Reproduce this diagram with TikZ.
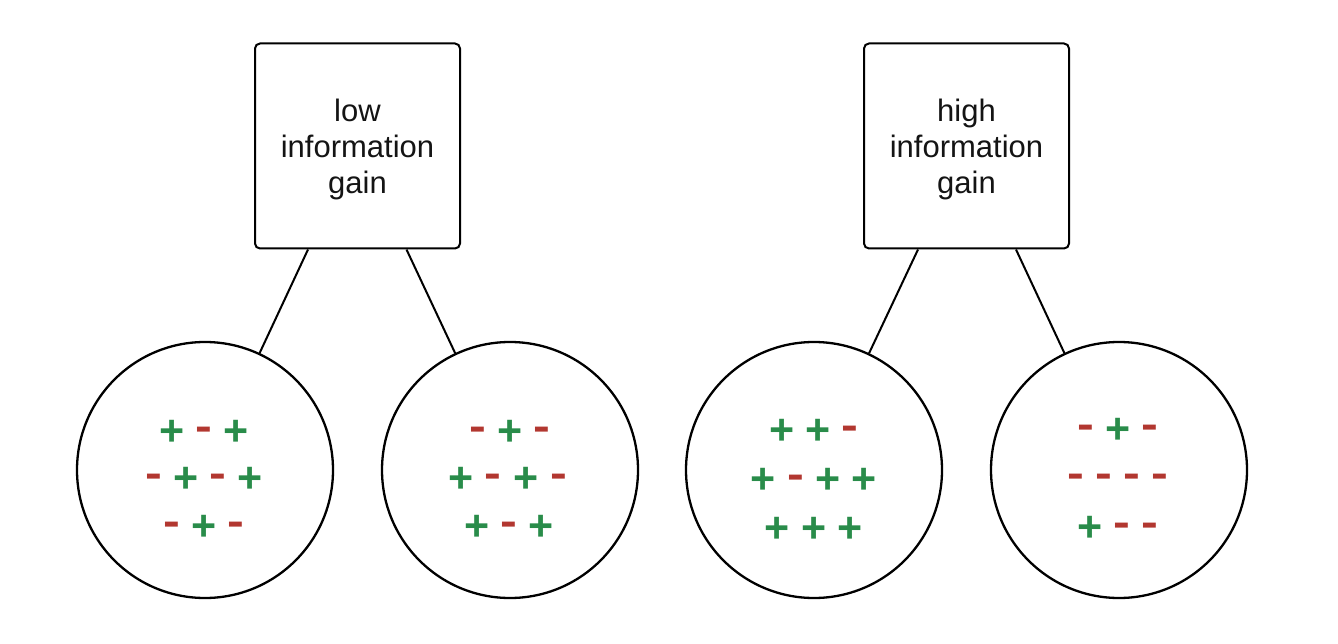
\documentclass[tikz,border=0pt]{standalone}
\usepackage{fontspec}
\setmainfont{Liberation Sans}
\definecolor{pgreen}{RGB}{41,140,74}
\definecolor{mred}{RGB}{178,55,48}
\tikzset{
  gainbox/.style={draw, line width=2pt, rounded corners=5pt, minimum width=205pt, minimum height=205pt, inner sep=0pt},
  boxtext/.style={align=center, inner sep=0pt, font=\fontsize{31}{36}\selectfont, text=black!92, yshift=-3.5pt},
  leaf/.style={draw, circle, line width=2.3pt, minimum size=256pt, inner sep=0pt},
  edge/.style={line width=2pt},
  possign/.style={text=pgreen, font=\fontsize{43}{43}\bfseries\selectfont, inner sep=0pt, yshift=-3.5pt},
  negsign/.style={text=mred, font=\fontsize{42}{42}\bfseries\selectfont, xscale=1.2, inner sep=0pt, yshift=-5pt},
}
\begin{document}
\begin{tikzpicture}[x=1pt,y=-1pt]
\useasboundingbox (0,0) rectangle (1338,644);
\node[gainbox] (b1) at (357.5,146) {};
\node[gainbox] (b2) at (966.5,146) {};
\node[boxtext] (t1) at (b1.center) {low\\information\\gain};
\node[boxtext] (t2) at (b2.center) {high\\information\\gain};
\node[leaf] (c1) at (205,470) {};
\node[leaf] (c2) at (510,470) {};
\node[leaf] (c3) at (814,470) {};
\node[leaf] (c4) at (1119,470) {};
\draw[edge] ([xshift=-49.5pt]b1.south) -- (c1);
\draw[edge] ([xshift=49pt]b1.south) -- (c2);
\draw[edge] ([xshift=-48.5pt]b2.south) -- (c3);
\draw[edge] ([xshift=49.5pt]b2.south) -- (c4);
% circle 1
\node[possign] (a11) at (172,429) {+};
\node[negsign] (a12) at (204,429) {-};
\node[possign] (a13) at (236,429) {+};
\node[negsign] (a21) at (154,476) {-};
\node[possign] (a22) at (186,476) {+};
\node[negsign] (a23) at (218,476) {-};
\node[possign] (a24) at (250,476) {+};
\node[negsign] (a31) at (172,524) {-};
\node[possign] (a32) at (204,524) {+};
\node[negsign] (a33) at (236,524) {-};
% circle 2
\node[negsign] (b11) at (478,429) {-};
\node[possign] (b12) at (510,429) {+};
\node[negsign] (b13) at (542,429) {-};
\node[possign] (b21) at (461,476) {+};
\node[negsign] (b22) at (493,476) {-};
\node[possign] (b23) at (526,476) {+};
\node[negsign] (b24) at (559,476) {-};
\node[possign] (b31) at (477,524) {+};
\node[negsign] (b32) at (509,524) {-};
\node[possign] (b33) at (541,524) {+};
% circle 3
\node[possign] (d11) at (782,428) {+};
\node[possign] (d12) at (818,428) {+};
\node[negsign] (d13) at (850,428) {-};
\node[possign] (d21) at (763,477) {+};
\node[negsign] (d22) at (796,477) {-};
\node[possign] (d23) at (828,477) {+};
\node[possign] (d24) at (864,477) {+};
\node[possign] (d31) at (777,526) {+};
\node[possign] (d32) at (814,526) {+};
\node[possign] (d33) at (850,526) {+};
% circle 4
\node[negsign] (e11) at (1086,427) {-};
\node[possign] (e12) at (1118,427) {+};
\node[negsign] (e13) at (1150,427) {-};
\node[negsign] (e21) at (1076,476) {-};
\node[negsign] (e22) at (1104,476) {-};
\node[negsign] (e23) at (1132,476) {-};
\node[negsign] (e24) at (1160,476) {-};
\node[possign] (e31) at (1090,525) {+};
\node[negsign] (e32) at (1122,525) {-};
\node[negsign] (e33) at (1150,525) {-};
\end{tikzpicture}
\end{document}
